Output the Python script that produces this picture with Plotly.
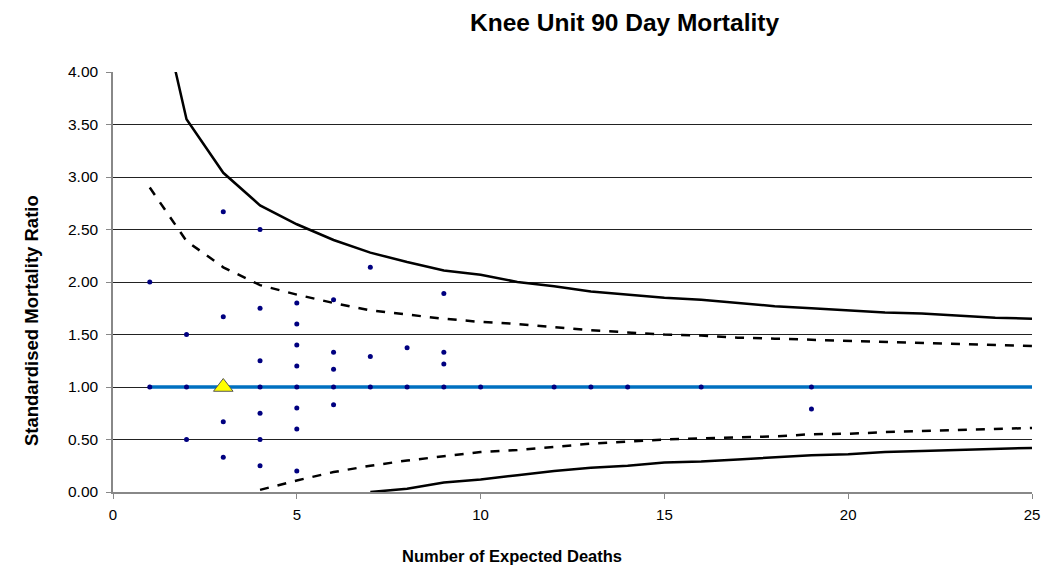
import plotly.graph_objects as go

# Unit observations (expected deaths, SMR)
pts_x = [1, 1,
         2, 2, 2,
         3, 3, 3, 3,
         4, 4, 4, 4, 4, 4, 4,
         5, 5, 5, 5, 5, 5, 5, 5,
         6, 6, 6, 6, 6,
         7, 7, 7,
         8, 8,
         9, 9, 9, 9,
         10, 12, 13, 14, 16,
         19, 19]
pts_y = [2.00, 1.00,
         1.50, 1.00, 0.50,
         2.67, 1.67, 0.67, 0.33,
         2.50, 1.75, 1.25, 1.00, 0.75, 0.50, 0.25,
         1.80, 1.60, 1.40, 1.20, 1.00, 0.80, 0.60, 0.20,
         1.83, 1.33, 1.17, 1.00, 0.83,
         2.14, 1.29, 1.00,
         1.375, 1.00,
         1.89, 1.33, 1.22, 1.00,
         1.00, 1.00, 1.00, 1.00, 1.00,
         1.00, 0.79]

# Highlighted unit
unit_x = [3]
unit_y = [1.00]

# Control limits
lim_x = list(range(1, 26))
upper_998 = [5.08, 3.55, 3.04, 2.73, 2.55, 2.40, 2.28, 2.19, 2.11, 2.07, 2.00, 1.96, 1.91,
             1.88, 1.85, 1.83, 1.80, 1.77, 1.75, 1.73, 1.71, 1.70, 1.68, 1.66, 1.65]
upper_95 = [2.90, 2.39, 2.14, 1.97, 1.88, 1.80, 1.73, 1.69, 1.65, 1.62, 1.60, 1.57, 1.54,
            1.52, 1.50, 1.49, 1.47, 1.46, 1.45, 1.44, 1.43, 1.42, 1.41, 1.40, 1.39]
lower_95_x = list(range(4, 26))
lower_95 = [0.02, 0.11, 0.19, 0.25, 0.30, 0.34, 0.38, 0.40, 0.43, 0.46, 0.48, 0.50,
            0.51, 0.52, 0.53, 0.55, 0.555, 0.57, 0.58, 0.59, 0.60, 0.61]
lower_998_x = list(range(7, 26))
lower_998 = [0.00, 0.03, 0.09, 0.12, 0.16, 0.20, 0.23, 0.25, 0.28, 0.29, 0.31, 0.33,
             0.35, 0.36, 0.38, 0.39, 0.40, 0.41, 0.42]

target_x = [1, 25]
target_y = [1.0, 1.0]

title_text = "Knee Unit 90 Day Mortality"
x_title = "Number of Expected Deaths"
y_title = "Standardised Mortality Ratio"

fig = go.Figure()
line_solid = dict(color="black", width=2.5)
line_dash = dict(color="black", width=2.5, dash="dash")

fig.add_trace(go.Scatter(x=target_x, y=target_y, mode="lines",
                         line=dict(color="#0070C0", width=3.5), showlegend=False))
fig.add_trace(go.Scatter(x=lim_x, y=upper_998, mode="lines", line=line_solid, showlegend=False))
fig.add_trace(go.Scatter(x=lim_x, y=upper_95, mode="lines", line=line_dash, showlegend=False))
fig.add_trace(go.Scatter(x=lower_95_x, y=lower_95, mode="lines", line=line_dash, showlegend=False))
fig.add_trace(go.Scatter(x=lower_998_x, y=lower_998, mode="lines", line=line_solid, showlegend=False))
fig.add_trace(go.Scatter(x=pts_x, y=pts_y, mode="markers",
                         marker=dict(color="#000080", size=5), showlegend=False))
fig.add_trace(go.Scatter(x=unit_x, y=unit_y, mode="markers",
                         marker=dict(symbol="triangle-up", color="#FFFF00", size=17,
                                     line=dict(color="#555555", width=1)),
                         showlegend=False))

font_family = "Liberation Sans, Arial, sans-serif"
fig.update_layout(
    width=1051, height=561,
    margin=dict(l=105, r=27, t=64, b=77),
    plot_bgcolor="white", paper_bgcolor="white",
    font=dict(family=font_family, size=15, color="black"),
    xaxis=dict(range=[0, 25], dtick=5, tick0=0, showgrid=False, zeroline=False,
               showline=True, linecolor="#888888", linewidth=1.5,
               ticks="outside", ticklen=5, tickcolor="#888888",
               tickfont=dict(size=15), ticklabelstandoff=3),
    yaxis=dict(range=[0, 4], dtick=0.5, tick0=0, tickformat=".2f",
               showgrid=True, gridcolor="#222222", gridwidth=1, zeroline=False,
               showline=True, linecolor="#888888", linewidth=1.5,
               ticks="outside", ticklen=5, tickcolor="#888888",
               tickfont=dict(size=15.5), ticklabelstandoff=5),
    annotations=[
        dict(text="<b>" + title_text + "</b>", xref="paper", yref="paper",
             x=0.557, y=1.118, xanchor="center", yanchor="middle",
             showarrow=False, font=dict(size=24.5)),
        dict(text="<b>" + x_title + "</b>", xref="paper", yref="paper",
             x=0.434, y=-0.152, xanchor="center", yanchor="middle",
             showarrow=False, font=dict(size=16.5)),
        dict(text="<b>" + y_title + "</b>", xref="paper", yref="paper",
             x=-0.0892, y=0.407, xanchor="center", yanchor="middle", textangle=-90,
             showarrow=False, font=dict(size=18.5)),
    ],
)

fig.write_html("out.html")
